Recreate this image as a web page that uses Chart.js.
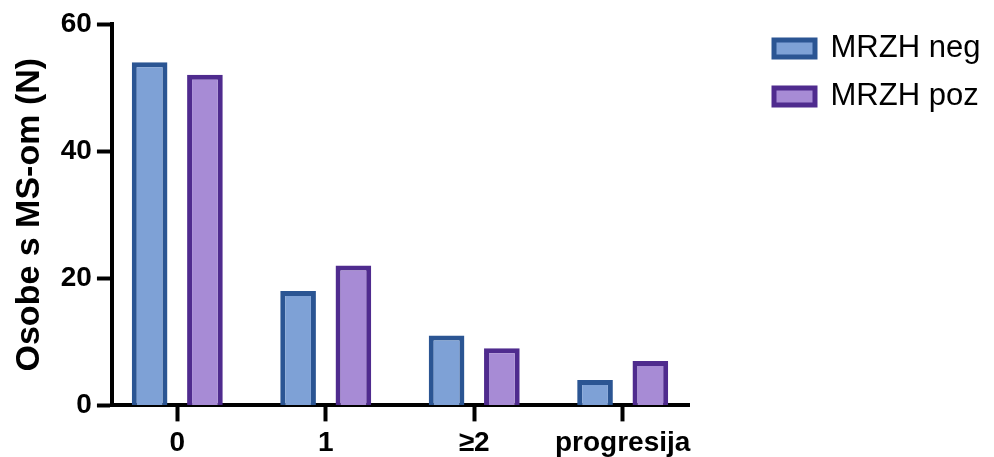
<!DOCTYPE html>
<html>
<head>
<meta charset="utf-8">
<script src="https://cdn.jsdelivr.net/npm/chart.js@4"></script>
<style>
  body { margin: 0; background: #fff; }
  #wrap { width: 994px; height: 457px; position: relative; }
</style>
</head>
<body>
<div id="wrap"><canvas id="myChart"></canvas></div>
<script>
const categories = ['0', '1', '≥2', 'progresija'];
const mrzhNeg = [54, 18, 11, 4];
const mrzhPoz = [52, 22, 9, 7];
const yTicks = [0, 20, 40, 60];

const FONT = "'Liberation Sans', Arial, sans-serif";

// put the legend where the original has it
const legendPlace = {
    id: 'legendPlace',
    afterLayout(chart) {
        const lg = chart.legend;
        const pad = lg.options.labels.padding;
        lg.left = 774 - pad;
        lg.right = lg.left + lg.width;
        lg.top = 16;
        lg.bottom = lg.top + lg.height;
    }
};

const ctx = document.getElementById('myChart');
const myChart = new Chart(ctx, {
    type: 'bar',
    data: {
        datasets: [
            {
                label: 'MRZH neg',
                data: mrzhNeg.map((v, i) => ({ x: i, y: v })),
                backgroundColor: '#7ea1d6',
                borderColor: '#2b5593',
                borderWidth: 5
            },
            {
                label: 'MRZH poz',
                data: mrzhPoz.map((v, i) => ({ x: i, y: v })),
                backgroundColor: '#a78bd5',
                borderColor: '#4f2b8e',
                borderWidth: 5
            }
        ]
    },
    options: {
        responsive: true,
        maintainAspectRatio: false,
        animation: false,
        layout: { padding: { top: 24, right: 76, bottom: -8, left: 4 } },
        datasets: {
            bar: { categoryPercentage: 0.745, barPercentage: 0.645 }
        },
        plugins: {
            tooltip: { enabled: false },
            legend: {
                position: 'right',
                align: 'start',
                labels: {
                    boxWidth: 41,
                    boxHeight: 17,
                    padding: 17,
                    color: '#000',
                    font: { family: FONT, size: 31 }
                }
            }
        },
        scales: {
            x: {
                type: 'linear',
                min: -0.44,
                max: 3.45,
                offset: false,
                afterBuildTicks(scale) {
                    scale.ticks = categories.map((c, i) => ({ value: i }));
                },
                grid: {
                    display: true,
                    drawOnChartArea: false,
                    offset: false,
                    tickLength: 16,
                    tickWidth: 4,
                    tickColor: '#000'
                },
                border: { display: true, width: 4, color: '#000' },
                ticks: {
                    color: '#000',
                    padding: 5,
                    maxRotation: 0,
                    autoSkip: false,
                    callback: (value) => categories[value],
                    font: { family: FONT, size: 28, weight: 'bold' }
                }
            },
            y: {
                min: 0,
                max: 60,
                afterBuildTicks(scale) {
                    scale.ticks = yTicks.map(v => ({ value: v }));
                },
                grid: {
                    display: true,
                    drawOnChartArea: false,
                    tickLength: 15,
                    tickWidth: 4,
                    tickColor: '#000'
                },
                border: { display: true, width: 4, color: '#000' },
                ticks: {
                    color: '#000',
                    padding: 5,
                    font: { family: FONT, size: 28, weight: 'bold' }
                },
                title: {
                    display: true,
                    text: 'Osobe s MS-om (N)',
                    color: '#000',
                    padding: { top: 5, bottom: 6 },
                    font: { family: FONT, size: 34, weight: 'bold' }
                }
            }
        }
    },
    plugins: [legendPlace]
});
</script>
</body>
</html>
